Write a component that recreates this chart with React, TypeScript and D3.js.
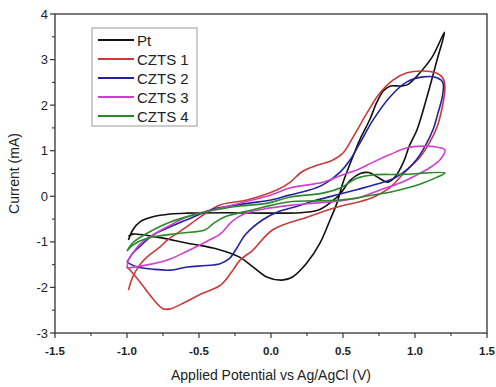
import React from "react";
import * as d3 from "d3";

type P = [number, number];

const seriesNames = ["Pt", "CZTS 1", "CZTS 2", "CZTS 3", "CZTS 4"];
const seriesColors = ["#111111", "#c93a3a", "#2323a0", "#d040d0", "#2a8a2a"];

const xTicks = [-1.5, -1.0, -0.5, 0.0, 0.5, 1.0, 1.5];
const xTickLabels = ["-1.5", "-1.0", "-0.5", "0.0", "0.5", "1.0", "1.5"];
const yTicks = [-3, -2, -1, 0, 1, 2, 3, 4];
const yTickLabels = ["-3", "-2", "-1", "0", "1", "2", "3", "4"];

const ptCurve: P[] = [
  [-0.99, -0.96], [-0.96, -0.74], [-0.91, -0.56], [-0.82, -0.45], [-0.7, -0.39], [-0.58, -0.37],
  [-0.3, -0.36], [0.0, -0.37], [0.2, -0.36], [0.33, -0.3], [0.42, -0.12], [0.48, 0.05],
  [0.55, 0.35], [0.62, 0.5], [0.68, 0.52], [0.75, 0.4], [0.81, 0.31], [0.86, 0.42],
  [0.92, 0.75], [0.96, 1.1], [1.014, 1.46], [1.083, 2.18], [1.153, 2.99], [1.205, 3.6],
  [1.12, 3.06], [1.014, 2.64], [0.95, 2.45], [0.9, 2.42], [0.83, 2.42], [0.78, 2.31],
  [0.736, 2.07], [0.687, 1.69], [0.618, 1.25], [0.57, 0.88], [0.5, 0.3], [0.458, -0.15],
  [0.41, -0.52], [0.34, -1.03], [0.25, -1.46], [0.15, -1.77], [0.076, -1.84], [-0.03, -1.77],
  [-0.125, -1.55], [-0.215, -1.34], [-0.37, -1.16], [-0.58, -1.03], [-0.82, -0.88],
  [-0.96, -0.83], [-0.99, -0.88],
];

const czts1Curve: P[] = [
  [-0.99, -2.06], [-0.96, -1.77], [-0.91, -1.5], [-0.86, -1.33], [-0.77, -1.11], [-0.72, -0.96],
  [-0.6, -0.7], [-0.49, -0.45], [-0.354, -0.19], [-0.167, -0.08], [0.04, 0.14], [0.13, 0.3],
  [0.22, 0.55], [0.32, 0.68], [0.42, 0.78], [0.5, 0.95], [0.57, 1.3], [0.667, 1.83],
  [0.757, 2.27], [0.847, 2.55], [0.944, 2.71], [1.056, 2.75], [1.153, 2.7], [1.194, 2.59],
  [1.208, 2.4], [1.19, 1.97], [1.153, 1.52], [1.1, 1.17], [1.035, 0.86], [0.92, 0.5],
  [0.83, 0.2], [0.71, -0.02], [0.6, -0.13], [0.48, -0.22], [0.25, -0.46], [0.01, -0.74],
  [-0.125, -1.18], [-0.215, -1.4], [-0.26, -1.6], [-0.35, -1.95], [-0.49, -2.15],
  [-0.6, -2.33], [-0.7, -2.47], [-0.75, -2.47], [-0.82, -2.25], [-0.91, -1.88],
  [-0.97, -1.65], [-1.0, -1.55],
];

const czts2Curve: P[] = [
  [-1.0, -1.45], [-0.96, -1.25], [-0.91, -1.1], [-0.82, -0.85], [-0.7, -0.67], [-0.55, -0.47],
  [-0.42, -0.3], [-0.3, -0.22], [-0.15, -0.15], [0.0, -0.08], [0.12, 0.02], [0.25, 0.12],
  [0.36, 0.25], [0.48, 0.53], [0.55, 0.8], [0.618, 1.17], [0.708, 1.67], [0.826, 2.18],
  [0.944, 2.51], [1.056, 2.62], [1.153, 2.6], [1.194, 2.49], [1.19, 2.19], [1.16, 1.83],
  [1.125, 1.46], [1.07, 1.1], [1.01, 0.8], [0.95, 0.6], [0.87, 0.42], [0.75, 0.28],
  [0.6, 0.15], [0.48, 0.05], [0.3, -0.1], [0.17, -0.23], [0.05, -0.34], [-0.06, -0.52],
  [-0.18, -0.85], [-0.24, -1.15], [-0.29, -1.37], [-0.354, -1.48], [-0.45, -1.52],
  [-0.58, -1.55], [-0.7, -1.62], [-0.82, -1.6], [-0.93, -1.55], [-1.0, -1.45],
];

const czts3Curve: P[] = [
  [-1.0, -1.58], [-0.99, -1.4], [-0.96, -1.25], [-0.91, -1.05], [-0.82, -0.85], [-0.72, -0.67],
  [-0.58, -0.45], [-0.45, -0.33], [-0.3, -0.22], [-0.15, -0.1], [0.0, 0.03], [0.13, 0.18],
  [0.36, 0.31], [0.48, 0.45], [0.6, 0.58], [0.71, 0.75], [0.83, 0.92], [0.94, 1.06],
  [1.06, 1.1], [1.15, 1.08], [1.208, 1.02], [1.174, 0.8], [1.1, 0.62], [1.014, 0.47],
  [0.896, 0.29], [0.757, 0.14], [0.618, -0.02], [0.48, -0.1], [0.3, -0.15], [0.13, -0.2],
  [-0.05, -0.28], [-0.18, -0.38], [-0.27, -0.55], [-0.35, -0.82], [-0.44, -0.98],
  [-0.58, -1.2], [-0.72, -1.4], [-0.85, -1.5], [-1.0, -1.58],
];

const czts4Curve: P[] = [
  [-1.0, -1.2], [-0.96, -1.02], [-0.86, -0.81], [-0.72, -0.59], [-0.49, -0.37], [-0.26, -0.23],
  [-0.02, -0.15], [0.13, -0.02], [0.36, 0.07], [0.48, 0.18], [0.6, 0.4], [0.71, 0.47],
  [0.9, 0.48], [1.208, 0.51], [1.153, 0.42], [1.056, 0.29], [0.944, 0.18], [0.826, 0.09],
  [0.708, 0.03], [0.597, -0.04], [0.479, -0.08], [0.3, -0.1], [0.13, -0.12], [0.0, -0.2],
  [-0.13, -0.3], [-0.32, -0.45], [-0.4, -0.6], [-0.46, -0.74], [-0.63, -0.81],
  [-0.86, -0.92], [-0.96, -1.07], [-1.0, -1.2],
];

const curves = [ptCurve, czts1Curve, czts2Curve, czts3Curve, czts4Curve];

const W = 496;
const H = 387;
const L = 55, R = 487, T = 14, B = 333;

export default function App() {
  const x = d3.scaleLinear().domain([-1.5, 1.5]).range([L, R]);
  const y = d3.scaleLinear().domain([-3, 4]).range([B, T]);
  const line = d3
    .line<P>()
    .x((d) => x(d[0]))
    .y((d) => y(d[1]))
    .curve(d3.curveCatmullRom.alpha(0.5));

  const xMinor = d3.range(-1.25, 1.5, 0.5);
  const yMinor = d3.range(-2.5, 4, 1);
  const font = "'Liberation Sans', Arial, sans-serif";
  const axisColor = "#333";

  return (
    <svg
      width={W}
      height={H}
      style={{ position: "absolute", left: 0, top: 0, background: "#fff" }}
      fontFamily={font}
    >
      <rect x={0} y={0} width={W} height={H} fill="#fff" />
      <defs>
        <clipPath id="plotclip">
          <rect x={L} y={T} width={R - L} height={B - T} />
        </clipPath>
      </defs>
      <g clipPath="url(#plotclip)">
        {curves.map((c, i) => (
          <path
            key={seriesNames[i]}
            d={line(c) || ""}
            fill="none"
            stroke={seriesColors[i]}
            strokeWidth={1.6}
            strokeLinejoin="round"
          />
        ))}
      </g>
      <rect x={L} y={T} width={R - L} height={B - T} fill="none" stroke={axisColor} strokeWidth={1.3} />
      {/* x ticks */}
      {xTicks.map((t, i) => (
        <g key={"xt" + i}>
          <line x1={x(t)} x2={x(t)} y1={B} y2={B + 5} stroke={axisColor} strokeWidth={1.2} />
          <text x={x(t)} y={B + 22} textAnchor="middle" fontSize={11.5} fontWeight="bold" fill="#222">
            {xTickLabels[i]}
          </text>
        </g>
      ))}
      {xMinor.map((t, i) => (
        <line key={"xm" + i} x1={x(t)} x2={x(t)} y1={B} y2={B + 3} stroke={axisColor} strokeWidth={1.1} />
      ))}
      {/* y ticks */}
      {yTicks.map((t, i) => (
        <g key={"yt" + i}>
          <line x1={L - 5} x2={L} y1={y(t)} y2={y(t)} stroke={axisColor} strokeWidth={1.2} />
          <text x={L - 7} y={y(t) + 4.5} textAnchor="end" fontSize={13} fill="#222">
            {yTickLabels[i]}
          </text>
        </g>
      ))}
      {yMinor.map((t, i) => (
        <line key={"ym" + i} x1={L - 3} x2={L} y1={y(t)} y2={y(t)} stroke={axisColor} strokeWidth={1.1} />
      ))}
      {/* axis titles */}
      <text x={(L + R) / 2} y={380} textAnchor="middle" fontSize={14} fill="#222">
        Applied Potential vs Ag/AgCl (V)
      </text>
      <text
        transform={`translate(19, ${(T + B) / 2}) rotate(-90)`}
        textAnchor="middle"
        fontSize={14}
        fill="#222"
      >
        Current (mA)
      </text>
      {/* legend */}
      <rect x={92} y={28} width={105} height={98} fill="#fff" stroke="#999" strokeWidth={1} />
      {seriesNames.map((n, i) => (
        <g key={"lg" + i}>
          <line x1={98} x2={134} y1={40 + i * 19} y2={40 + i * 19} stroke={seriesColors[i]} strokeWidth={1.8} />
          <text x={137} y={40 + i * 19 + 5.5} fontSize={15} fill="#222">
            {n}
          </text>
        </g>
      ))}
    </svg>
  );
}
